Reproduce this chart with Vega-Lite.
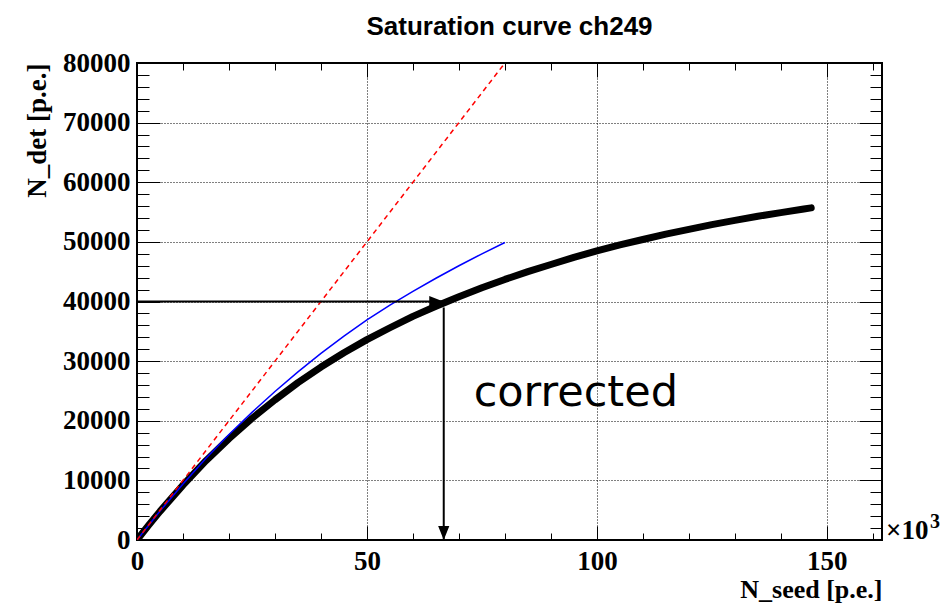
{
  "$schema": "https://vega.github.io/schema/vega-lite/v6.json",
  "width": 745,
  "height": 477,
  "autosize": {"type": "none"},
  "padding": {"left": 137, "top": 63, "right": 59, "bottom": 63},
  "background": "white",
  "title": {"text": "Saturation curve ch249", "font": "Liberation Sans", "fontSize": 26, "fontWeight": "bold", "color": "black", "anchor": "middle", "frame": "group", "offset": -12, "baseline": "alphabetic"},
  "config": {
    "view": {"stroke": "black", "strokeWidth": 2},
    "axis": {
      "domain": false,
      "labelFont": "Liberation Serif", "labelFontSize": 27, "labelFontWeight": "bold", "labelColor": "black",
      "titleFont": "Liberation Serif", "titleFontSize": 27, "titleFontWeight": "bold", "titleColor": "black",
      "tickColor": "black", "tickWidth": 1,
      "gridColor": "black", "gridDash": [1, 2], "gridWidth": 1, "gridOpacity": 1,
      "labelFlush": false, "labelOverlap": false
    }
  },
  "datasets": {
    "black": [
      {"x": 0, "y": 0}, {"x": 2.5, "y": 2450}, {"x": 5, "y": 4800}, {"x": 10, "y": 9200}, {"x": 15, "y": 13300},
      {"x": 20, "y": 17000}, {"x": 25, "y": 20400}, {"x": 30, "y": 23500}, {"x": 35, "y": 26400}, {"x": 40, "y": 29000},
      {"x": 45, "y": 31400}, {"x": 50, "y": 33600}, {"x": 55, "y": 35600}, {"x": 60, "y": 37500}, {"x": 65, "y": 39200},
      {"x": 70, "y": 40800}, {"x": 75, "y": 42300}, {"x": 80, "y": 43700}, {"x": 85, "y": 45000}, {"x": 90, "y": 46200},
      {"x": 95, "y": 47400}, {"x": 100, "y": 48500}, {"x": 105, "y": 49500}, {"x": 110, "y": 50400}, {"x": 115, "y": 51300},
      {"x": 120, "y": 52100}, {"x": 125, "y": 52900}, {"x": 130, "y": 53600}, {"x": 135, "y": 54300}, {"x": 140, "y": 54900},
      {"x": 145, "y": 55500}, {"x": 146.6, "y": 55700}
    ],
    "blue": [
      {"x": 0, "y": 0}, {"x": 5, "y": 4850}, {"x": 10, "y": 9380}, {"x": 15, "y": 13700}, {"x": 20, "y": 17700},
      {"x": 25, "y": 21400}, {"x": 30, "y": 24900}, {"x": 35, "y": 28200}, {"x": 40, "y": 31300}, {"x": 45, "y": 34200},
      {"x": 50, "y": 36900}, {"x": 55, "y": 39400}, {"x": 60, "y": 41700}, {"x": 65, "y": 43900}, {"x": 70, "y": 46000},
      {"x": 75, "y": 48000}, {"x": 80, "y": 49900}
    ],
    "red": [{"x": 0, "y": 0}, {"x": 80, "y": 80000}],
    "harrow": [{"x": 0, "x2": 66.6, "y": 40000}],
    "varrow": [{"x": 66.7, "y": 39000, "y2": 0}],
    "hhead": [{"x": 66.6, "y": 40000}],
    "vhead": [{"x": 66.7, "y": 0}],
    "note": [{"x": 73.2, "y": 22500, "label": "corrected"}],
    "mult": [{"x": 162, "y": 0, "label": "×10", "exp": "3"}]
  },
  "resolve": {"axis": {"x": "independent", "y": "independent"}},
  "layer": [
    {
      "data": {"name": "black"},
      "mark": {"type": "line", "color": "black", "strokeWidth": 7, "strokeCap": "round", "strokeJoin": "round", "clip": true},
      "encoding": {
        "x": {"field": "x", "type": "quantitative", "scale": {"domain": [0, 162], "nice": false, "zero": false},
          "axis": {"orient": "bottom", "values": [0, 50, 100, 150], "format": "d", "ticks": false, "grid": true, "labelPadding": 8,
            "title": "N_seed [p.e.]", "titleAnchor": "end", "titlePadding": 2, "titleFontSize": 26}},
        "y": {"field": "y", "type": "quantitative", "scale": {"domain": [0, 80000], "nice": false, "zero": false},
          "axis": {"orient": "left", "values": [0, 10000, 20000, 30000, 40000, 50000, 60000, 70000, 80000], "format": "d", "ticks": false, "grid": true, "labelPadding": 7,
            "title": "N_det [p.e.]", "titleAnchor": "end", "titlePadding": 11}}
      }
    },
    {
      "data": {"name": "blue"},
      "mark": {"type": "line", "color": "#0000ff", "strokeWidth": 1.5, "clip": true},
      "encoding": {
        "x": {"field": "x", "type": "quantitative", "scale": {"domain": [0, 162], "nice": false, "zero": false},
          "axis": {"orient": "bottom", "values": [0, 50, 100, 150], "labels": false, "title": null, "grid": false, "tickSize": -14}},
        "y": {"field": "y", "type": "quantitative", "scale": {"domain": [0, 80000], "nice": false, "zero": false},
          "axis": {"orient": "left", "values": [0, 10000, 20000, 30000, 40000, 50000, 60000, 70000, 80000], "labels": false, "title": null, "grid": false, "tickSize": -23}}
      }
    },
    {
      "data": {"name": "red"},
      "mark": {"type": "line", "color": "#ff0000", "strokeWidth": 1.5, "strokeDash": [5, 4], "clip": true},
      "encoding": {
        "x": {"field": "x", "type": "quantitative", "scale": {"domain": [0, 162], "nice": false, "zero": false},
          "axis": {"orient": "bottom", "values": [0, 10, 20, 30, 40, 50, 60, 70, 80, 90, 100, 110, 120, 130, 140, 150, 160], "labels": false, "title": null, "grid": false, "tickSize": -7}},
        "y": {"field": "y", "type": "quantitative", "scale": {"domain": [0, 80000], "nice": false, "zero": false},
          "axis": {"orient": "left", "values": [0, 2000, 4000, 6000, 8000, 10000, 12000, 14000, 16000, 18000, 20000, 22000, 24000, 26000, 28000, 30000, 32000, 34000, 36000, 38000, 40000, 42000, 44000, 46000, 48000, 50000, 52000, 54000, 56000, 58000, 60000, 62000, 64000, 66000, 68000, 70000, 72000, 74000, 76000, 78000, 80000], "labels": false, "title": null, "grid": false, "tickSize": -12}}
      }
    },
    {
      "data": {"name": "harrow"},
      "mark": {"type": "rule", "color": "black", "strokeWidth": 2},
      "encoding": {
        "x": {"field": "x", "type": "quantitative", "scale": {"domain": [0, 162], "nice": false, "zero": false},
          "axis": {"orient": "top", "values": [0, 50, 100, 150], "labels": false, "title": null, "grid": false, "tickSize": -14}},
        "x2": {"field": "x2"},
        "y": {"field": "y", "type": "quantitative", "scale": {"domain": [0, 80000], "nice": false, "zero": false},
          "axis": {"orient": "right", "values": [0, 10000, 20000, 30000, 40000, 50000, 60000, 70000, 80000], "labels": false, "title": null, "grid": false, "tickSize": -23}}
      }
    },
    {
      "data": {"name": "varrow"},
      "mark": {"type": "rule", "color": "black", "strokeWidth": 2},
      "encoding": {
        "x": {"field": "x", "type": "quantitative", "scale": {"domain": [0, 162], "nice": false, "zero": false},
          "axis": {"orient": "top", "values": [0, 10, 20, 30, 40, 50, 60, 70, 80, 90, 100, 110, 120, 130, 140, 150, 160], "labels": false, "title": null, "grid": false, "tickSize": -7}},
        "y": {"field": "y", "type": "quantitative", "scale": {"domain": [0, 80000], "nice": false, "zero": false},
          "axis": {"orient": "right", "values": [0, 2000, 4000, 6000, 8000, 10000, 12000, 14000, 16000, 18000, 20000, 22000, 24000, 26000, 28000, 30000, 32000, 34000, 36000, 38000, 40000, 42000, 44000, 46000, 48000, 50000, 52000, 54000, 56000, 58000, 60000, 62000, 64000, 66000, 68000, 70000, 72000, 74000, 76000, 78000, 80000], "labels": false, "title": null, "grid": false, "tickSize": -12}},
        "y2": {"field": "y2"}
      }
    },
    {
      "data": {"name": "hhead"},
      "mark": {"type": "point", "shape": "M0,0L-2,-0.8L-2,0.8Z", "size": 196, "filled": true, "color": "black", "opacity": 1, "strokeWidth": 0},
      "encoding": {
        "x": {"field": "x", "type": "quantitative", "axis": null},
        "y": {"field": "y", "type": "quantitative", "axis": null}
      }
    },
    {
      "data": {"name": "vhead"},
      "mark": {"type": "point", "shape": "M0,0L-0.8,-2L0.8,-2Z", "size": 196, "filled": true, "color": "black", "opacity": 1, "strokeWidth": 0},
      "encoding": {
        "x": {"field": "x", "type": "quantitative", "axis": null},
        "y": {"field": "y", "type": "quantitative", "axis": null}
      }
    },
    {
      "data": {"name": "note"},
      "mark": {"type": "text", "font": "DejaVu Sans", "fontSize": 43, "fontWeight": "normal", "color": "black", "align": "left", "baseline": "alphabetic"},
      "encoding": {
        "x": {"field": "x", "type": "quantitative", "axis": null},
        "y": {"field": "y", "type": "quantitative", "axis": null},
        "text": {"field": "label"}
      }
    },
    {
      "data": {"name": "mult"},
      "mark": {"type": "text", "font": "Liberation Serif", "fontSize": 27, "fontWeight": "bold", "color": "black", "align": "left", "baseline": "alphabetic", "dx": 4, "dy": -1},
      "encoding": {
        "x": {"field": "x", "type": "quantitative", "axis": null},
        "y": {"field": "y", "type": "quantitative", "axis": null},
        "text": {"field": "label"}
      }
    },
    {
      "data": {"name": "mult"},
      "mark": {"type": "text", "font": "Liberation Serif", "fontSize": 20, "fontWeight": "bold", "color": "black", "align": "left", "baseline": "alphabetic", "dx": 48, "dy": -12},
      "encoding": {
        "x": {"field": "x", "type": "quantitative", "axis": null},
        "y": {"field": "y", "type": "quantitative", "axis": null},
        "text": {"field": "exp"}
      }
    }
  ]
}
